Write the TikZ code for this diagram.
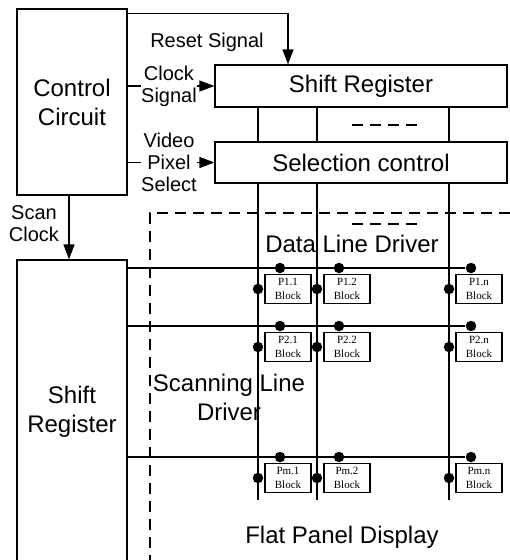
\documentclass[tikz,border=0pt]{standalone}
\usepackage{fontspec}
\setmainfont{Liberation Sans}
\newfontfamily\blkfont{Liberation Serif}
\usetikzlibrary{arrows.meta, positioning, calc}

\begin{document}
\begin{tikzpicture}[
  x=1pt, y=-1pt,
  line width=1.2pt,
  box/.style={rectangle, draw, inner sep=0pt, align=center,
              font=\fontsize{24}{29}\selectfont},
  big/.style={inner sep=0pt, align=center, font=\fontsize{24}{29}\selectfont},
  lbl/.style={inner sep=0.5pt, align=center, font=\fontsize{20}{22}\selectfont},
  blk/.style={rectangle, draw, fill=white, minimum width=46pt, minimum height=29pt,
              inner sep=0pt, align=center, font=\blkfont\fontsize{11}{14}\selectfont},
  dot/.style={circle, fill, inner sep=0pt, minimum size=10.5pt},
  arr/.style={-{Triangle[length=15pt, width=11pt]}},
  dsh/.style={dash pattern=on 11pt off 7pt},
]
\useasboundingbox (0,0) rectangle (510,560);

\node[box, minimum width=110pt, minimum height=186pt] (ctrl) at (72,102) {Control\\Circuit};
\node[box, minimum width=292pt, minimum height=42pt]  (sr)   at (361,86)  {Shift Register};
\node[box, minimum width=292pt, minimum height=41pt]  (sel)  at (361,162.5) {Selection control};
\node[box, minimum width=110pt, minimum height=304pt] (ssr)  at (72,412)  {Shift\\Register};

% control signals
\draw[arr] ([yshift=-5pt]ctrl.north east) -| ([xshift=-73pt]sr.north);
\node[lbl, anchor=base] (rst) at (207,47) {Reset Signal};
\draw[arr] (ctrl.east |- sr.west) -- (sr.west)
  node[lbl, midway, fill=white, xshift=-2pt] {Clock\\Signal};
\draw[arr] (ctrl.east |- sel.west) -- (sel.west)
  node[lbl, midway, fill=white, xshift=-2pt] {Video\\Pixel\\Select};
\draw[arr] ([xshift=-3pt]ctrl.south) -- ([xshift=-3pt]ssr.north);
\node[lbl] (scan) at (34,224) {Scan\\Clock};

% panel
\draw[dsh] (150,566) |- (516,213);
\draw[dsh] (352,125) -- (417,125);
\draw[dsh] (352,224) -- (417,224);
\node[big, anchor=base] (dld) at (352,252) {Data Line Driver};
\node[big] (sld) at (229,397) {Scanning Line\\Driver};
\node[big, anchor=base] (fpd) at (342,543) {Flat Panel Display};

% data lines
\foreach \x/\c in {258/1, 317/2, 449/n} {
  \coordinate (col\c) at (\x,0);
  \draw (col\c |- sr.south) -- (col\c |- sel.north);
  \draw (col\c |- sel.south) -- (\x,500);
}

% pixel blocks
\foreach \y/\r in {268/1, 326/2, 457/m} {
  \foreach \x/\c in {258/1, 317/2, 449/n} {
    \node[blk] (b\r\c) at (\x+30,\y+21) {P\r.\c\\Block};
    \node[dot] (h\r\c) at (\x+22,\y) {};
    \node[dot] (v\r\c) at (\x,\y+21) {};
    \draw (h\r\c) -- (h\r\c |- b\r\c.north);
    \draw (v\r\c) -- (b\r\c.west);
  }
  \draw (ssr.east |- h\r n) -- (h\r n);
}
\end{tikzpicture}
\end{document}
